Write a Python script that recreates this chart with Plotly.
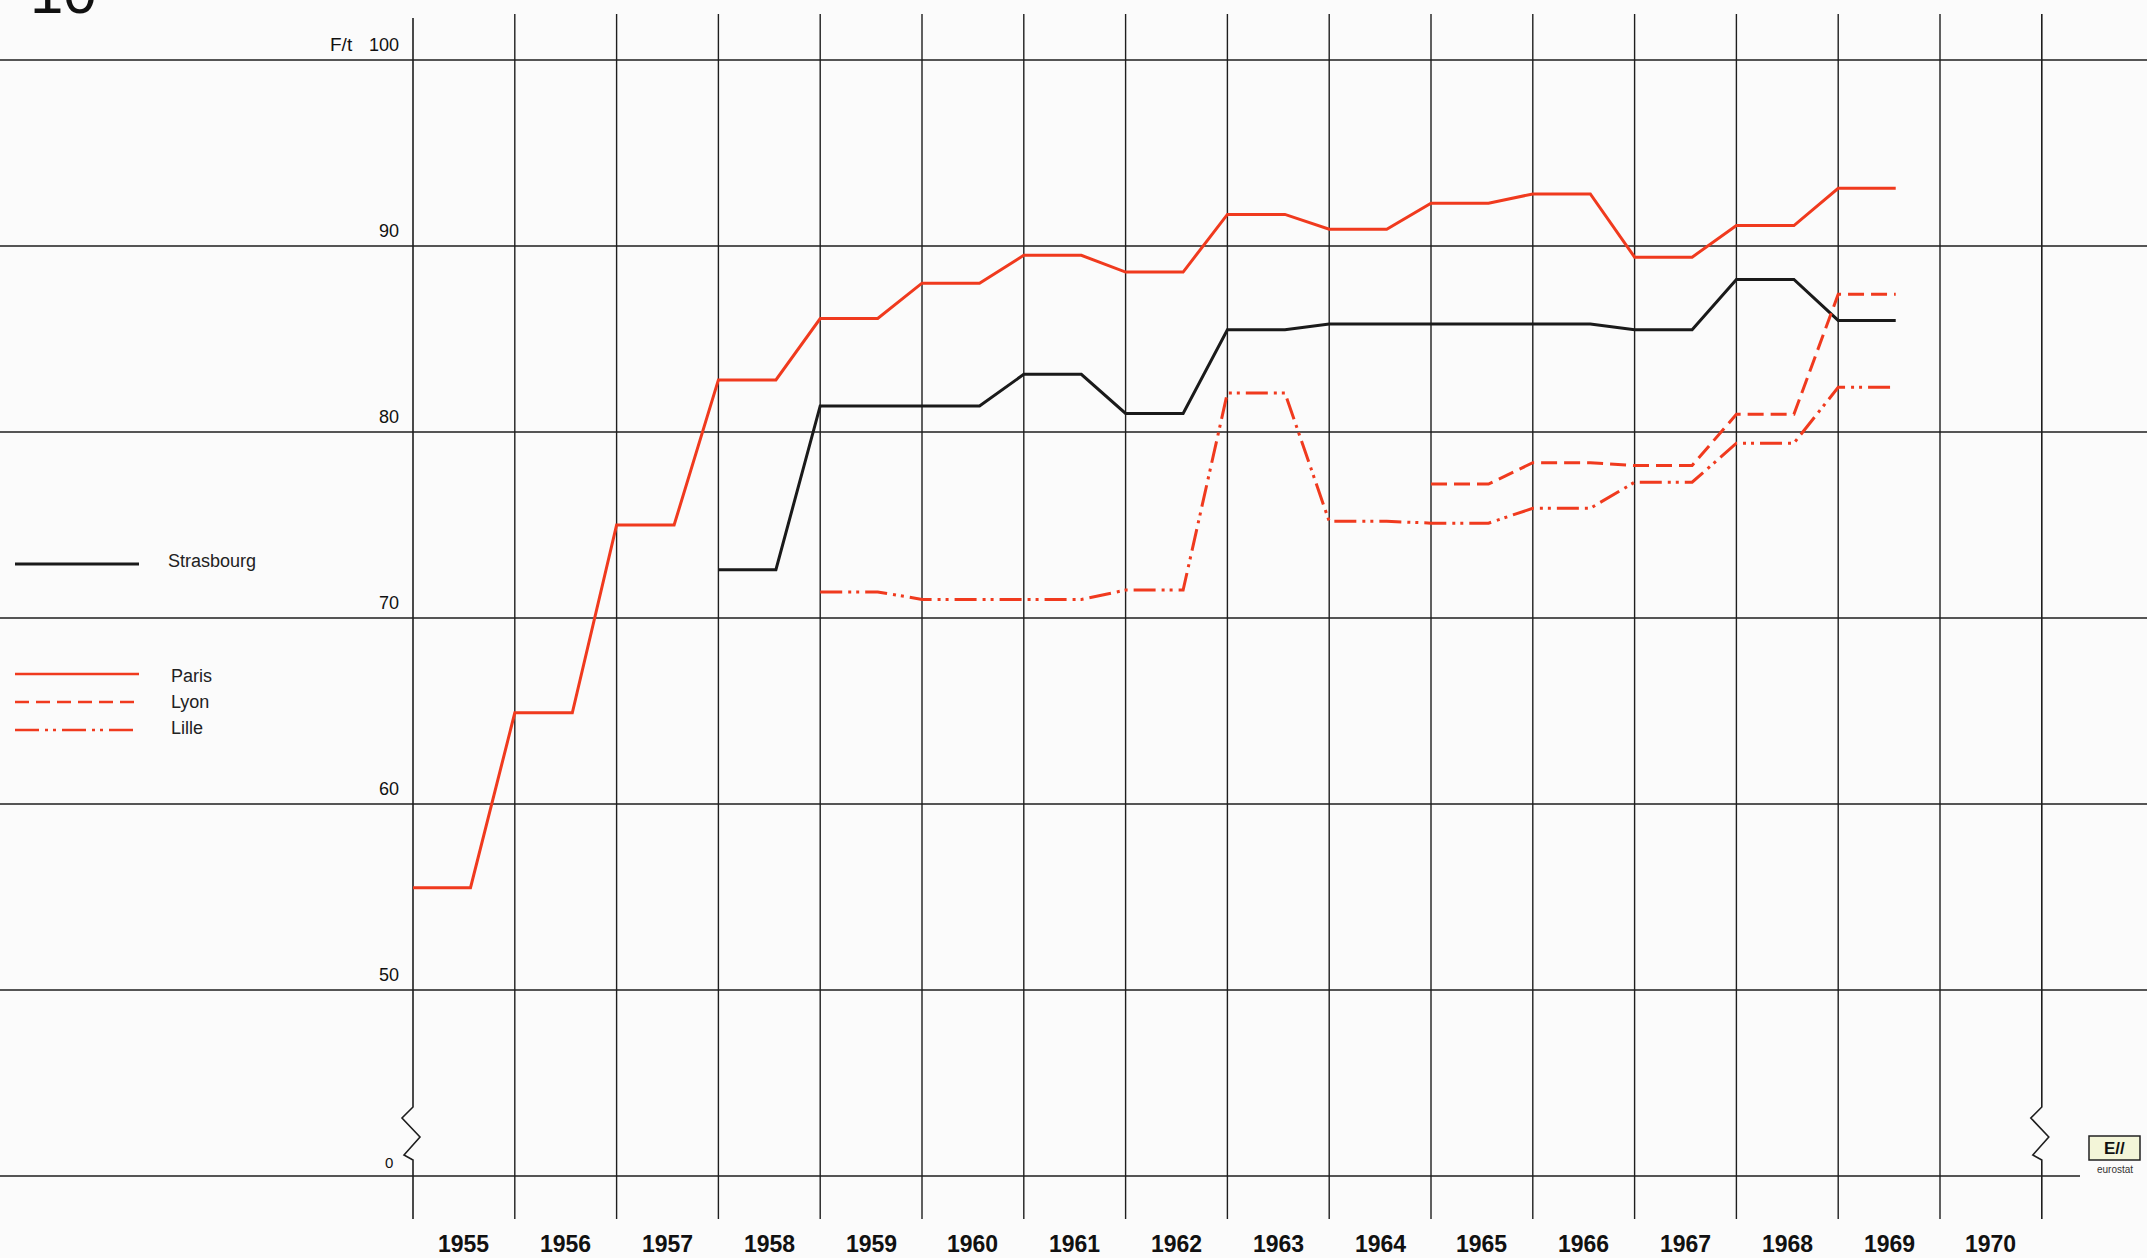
import plotly.graph_objects as go

# ---------------- data (F/t) ----------------
years = list(range(1955, 1970))
paris = [55.5, 64.9, 75.0, 82.8, 86.1, 88.0, 89.5, 88.6, 91.7, 90.9, 92.3, 92.8, 89.4, 91.1, 93.1]

strasbourg_years = list(range(1958, 1970))
strasbourg = [72.6, 81.4, 81.4, 83.1, 81.0, 85.5, 85.8, 85.8, 85.8, 85.5, 88.2, 86.0]

lyon_years = list(range(1965, 1970))
lyon = [77.2, 78.35, 78.2, 80.95, 87.4]

lille_years = list(range(1959, 1970))
lille = [71.4, 71.0, 71.0, 71.5, 82.1, 75.2, 75.1, 75.9, 77.3, 79.4, 82.4]

boundary_years = list(range(1955, 1972))          # vertical rules
label_years = list(range(1955, 1971))             # year captions
y_ticks = [100, 90, 80, 70, 60, 50]
y_tick_labels = ["100", "90", "80", "70", "60", "50"]
BREAK_POS = 40          # broken axis: "0" drawn one step below 50
zero_label = "0"
unit_label = "F/t"
chart_number = "10"

# ---------------- geometry / style ----------------
W, H = 2147, 1258
X_AXIS_PX, YEAR_PX = 413, 101.8
Y100_PX, UNIT_PX = 60, 18.6
FLAT = 0.565            # share of the year drawn flat before the transition
RED = "#f03a1e"
BLACK = "#1a1a1a"
GRID = "#1e1e1e"
BG = "#fbfbfb"
FONT = "Liberation Sans, Arial, sans-serif"
NARROW = "Liberation Sans Narrow, Arial Narrow, Liberation Sans, sans-serif"


def xd(px):
    return 1955 + (px - X_AXIS_PX) / YEAR_PX


def yd(py):
    return 100 - (py - Y100_PX) / UNIT_PX


def step_xy(yrs, vals):
    xs, ys = [], []
    for y, v in zip(yrs, vals):
        xs += [y, y + FLAT]
        ys += [v, v]
    return xs, ys


fig = go.Figure()

series = [
    ("Strasbourg", strasbourg_years, strasbourg, BLACK, "solid", 3),
    ("Paris", years, paris, RED, "solid", 3),
    ("Lyon", lyon_years, lyon, RED, "16px,7px", 3),
    ("Lille", lille_years, lille, RED, "22px,6px,3px,5px,3px,6px", 3),
]
for name, yrs, vals, col, dash, wd in series:
    xs, ys = step_xy(yrs, vals)
    fig.add_trace(go.Scatter(x=xs, y=ys, mode="lines", name=name,
                             line=dict(color=col, width=wd, dash=dash),
                             hoverinfo="skip"))

shapes = []
# horizontal rules
for v in y_ticks:
    shapes.append(dict(type="line", xref="paper", yref="y", x0=0, x1=1, y0=v, y1=v,
                       line=dict(color=GRID, width=1.4), layer="below"))
shapes.append(dict(type="line", xref="paper", yref="y", x0=0,
                   x1=(xd(2080) - xd(0)) / (xd(W) - xd(0)), y0=BREAK_POS, y1=BREAK_POS,
                   line=dict(color=GRID, width=1.4), layer="below"))

# vertical rules
top_v, bot_v = yd(14), yd(1219)
for i, yb in enumerate(boundary_years):
    if yb in (boundary_years[0], boundary_years[-1]):
        top = yd(18) if yb == boundary_years[0] else top_v
        zz = [(0, 1107), (-11, 1118), (7, 1137), (-9, 1155), (0, 1160)]
        pts = [(yb, top)] + [(yb + dx / YEAR_PX, yd(py)) for dx, py in zz] + [(yb, bot_v)]
        path = "M " + " L ".join(f"{a},{b}" for a, b in pts)
        shapes.append(dict(type="path", xref="x", yref="y", path=path,
                           line=dict(color=GRID, width=1.6), layer="below"))
    else:
        shapes.append(dict(type="line", xref="x", yref="y", x0=yb, x1=yb, y0=bot_v, y1=top_v,
                           line=dict(color=GRID, width=1.4), layer="below"))

# legend keys
legend_rows = [("Strasbourg", BLACK, "solid", 564, 561),
               ("Paris", RED, "solid", 674, 676),
               ("Lyon", RED, "14px,7px", 702, 702),
               ("Lille", RED, "24px,6px,3px,5px,3px,6px", 730, 728)]
annotations = []
for name, col, dash, ly, ty in legend_rows:
    shapes.append(dict(type="line", xref="paper", yref="paper",
                       x0=15 / W, x1=139 / W, y0=1 - ly / H, y1=1 - ly / H,
                       line=dict(color=col, width=3 if col == BLACK else 2.6, dash=dash)))
    annotations.append(dict(text=name, xref="paper", yref="paper",
                            x=(166 if name == "Strasbourg" else 169) / W, y=1 - ty / H,
                            xanchor="left", yanchor="middle", showarrow=False,
                            font=dict(family=FONT, size=18, color="#222")))

# eurostat mark
shapes.append(dict(type="rect", xref="paper", yref="paper",
                   x0=2089 / W, x1=2140 / W, y0=1 - 1160 / H, y1=1 - 1136 / H,
                   line=dict(color="#222", width=1.5), fillcolor="#f3f5d8"))
annotations.append(dict(text="<b>E//</b>", xref="paper", yref="paper", x=2114.5 / W, y=1 - 1148 / H,
                        xanchor="center", yanchor="middle", showarrow=False,
                        font=dict(family=FONT, size=17, color="#111")))
annotations.append(dict(text="eurostat", xref="paper", yref="paper", x=2114.5 / W, y=1 - 1169 / H,
                        xanchor="center", yanchor="middle", showarrow=False,
                        font=dict(family=NARROW, size=10, color="#333")))

# y tick labels
for v, t in zip(y_ticks, y_tick_labels):
    annotations.append(dict(text=t, xref="x", yref="y", x=boundary_years[0], y=v,
                            xanchor="right", yanchor="bottom", xshift=-12, yshift=3,
                            showarrow=False, font=dict(family=FONT, size=18, color="#111")))
annotations.append(dict(text=unit_label, xref="x", yref="y", x=boundary_years[0], y=y_ticks[0],
                        xanchor="right", yanchor="bottom", xshift=-58, yshift=3,
                        showarrow=False, font=dict(family=FONT, size=19, color="#111")))
annotations.append(dict(text=zero_label, xref="x", yref="y", x=boundary_years[0], y=BREAK_POS,
                        xanchor="right", yanchor="bottom", xshift=-18, yshift=3,
                        showarrow=False, font=dict(family=FONT, size=15, color="#111")))

# year captions
for yr in label_years:
    annotations.append(dict(text=f"<b>{yr}</b>", xref="x", yref="paper", x=yr + 0.5, y=1 - 1244 / H,
                            xanchor="center", yanchor="middle", showarrow=False,
                            font=dict(family=NARROW, size=23, color="#111")))

# chart number (cut at the top edge)
annotations.append(dict(text=chart_number, xref="paper", yref="paper", x=28 / W, y=1 - 28 / H,
                        xanchor="left", yanchor="bottom", showarrow=False,
                        font=dict(family=FONT, size=60, color="#111")))

fig.update_layout(
    width=W, height=H, autosize=False,
    margin=dict(l=0, r=0, t=0, b=0, pad=0),
    paper_bgcolor=BG, plot_bgcolor=BG,
    showlegend=False,
    xaxis=dict(range=[xd(0), xd(W)], visible=False, fixedrange=True),
    yaxis=dict(range=[yd(H), yd(0)], visible=False, fixedrange=True),
    shapes=shapes, annotations=annotations,
)

fig.write_html("out.html",
               config={"displayModeBar": False, "staticPlot": True},
               post_script="document.body.style.margin='0';document.body.style.padding='0';"
                           "document.body.style.overflow='hidden';"
                           "document.documentElement.style.background='%s';" % BG)
